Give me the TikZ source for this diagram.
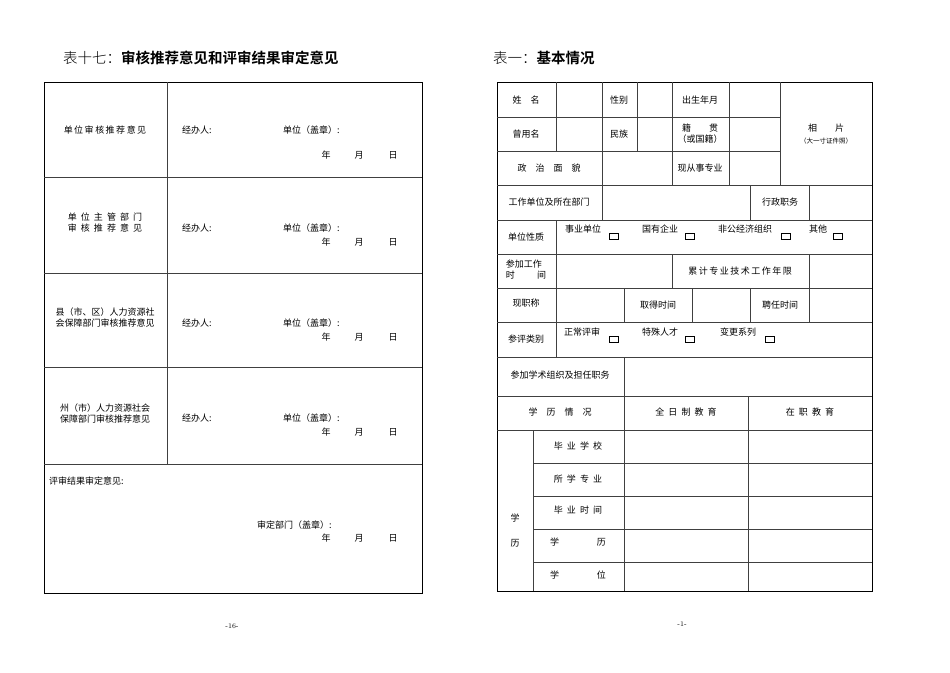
\documentclass[tikz,border=0pt]{standalone}
\usepackage{fontspec}
\newfontfamily\cjk{Noto Sans CJK SC}[BoldFont={Noto Sans CJK SC Bold}]
\newfontfamily\cjkl{Noto Sans CJK SC Light}
\begin{document}
\begin{tikzpicture}[x=1pt,y=-1pt,
  grid/.style={draw=black!75,line width=0.9pt},
  outer/.style={draw=black,line width=1pt},
  t/.style={font=\cjk\fontsize{9}{11}\selectfont,inner sep=0pt,align=center},
  cb/.style={draw=black,line width=0.6pt,minimum width=9pt,minimum height=6pt,inner sep=0pt},
  ttl/.style={font=\cjk\fontsize{14.5}{16}\selectfont,inner sep=0pt,anchor=west}]
\useasboundingbox (0,0) rectangle (950,672);
% ---------- left table ----------
\node[ttl] (lt) at (63,58) {{\cjkl 表十七：}\textbf{审核推荐意见和评审结果审定意见}};
\draw[outer] (44,82) rectangle (422,593);
\foreach \y in {177,273,367,464} \draw[grid] (44,\y) -- (422,\y);
\draw[grid] (167,82) -- (167,464);
\node[t] (l1) at (105,130) {单\,位\,审\,核\,推\,荐\,意\,见};
\node[t] (l2) at (105,223) {单\ \ 位\ \ 主\ \ 管\ \ 部\ \ 门\\审\ \ 核\ \ 推\ \ 荐\ \ 意\ \ 见};
\node[t] (l3) at (105,318) {县（市、区）人力资源社\\会保障部门审核推荐意见};
\node[t] (l4) at (105,414) {州（市）人力资源社会\\保障部门审核推荐意见};
\foreach \i/\y/\d in {1/130/25,2/228/14,3/323/14,4/418/14}{
  \node[t,anchor=west] (jb\i) at (182,\y) {经办人:};
  \node[t,anchor=west] (dw\i) at (283,\y) {单位（盖章）:};
  \node[t] (n\i) at (326,\y+\d) {年};
  \node[t] (m\i) at (359,\y+\d) {月};
  \node[t] (r\i) at (393,\y+\d) {日};
}
\node[t,anchor=west] (l5) at (49,481) {评审结果审定意见:};
\node[t,anchor=west] (sd) at (257,525) {审定部门（盖章）:};
\node[t] (n5) at (326,538) {年};
\node[t] (m5) at (359,538) {月};
\node[t] (r5) at (393,538) {日};
\node[font=\fontsize{7}{8}\selectfont] (p16) at (232,626) {-16-};
% ---------- right table ----------
\node[ttl] (rt) at (493,58) {{\cjkl 表一：}\textbf{基本情况}};
\draw[outer] (497,82) rectangle (872,591);
\foreach \y in {117,151} \draw[grid] (497,\y) -- (780,\y);
\foreach \y in {185,220,254,288,322,357,396,430} \draw[grid] (497,\y) -- (872,\y);
\foreach \y in {463,496,529,562} \draw[grid] (533,\y) -- (872,\y);
\draw[grid] (556,82) -- (556,151);
\draw[grid] (602,82) -- (602,185);
\draw[grid] (637,82) -- (637,151);
\draw[grid] (672,82) -- (672,185);
\draw[grid] (729,82) -- (729,185);
\draw[grid] (780,82) -- (780,185);
\draw[grid] (602,185) -- (602,220);
\draw[grid] (750,185) -- (750,220);
\draw[grid] (809,185) -- (809,220);
\draw[grid] (556,220) -- (556,357);
\draw[grid] (672,254) -- (672,288);
\draw[grid] (809,254) -- (809,322);
\draw[grid] (624,288) -- (624,322);
\draw[grid] (692,288) -- (692,322);
\draw[grid] (750,288) -- (750,322);
\draw[grid] (624,357) -- (624,591);
\draw[grid] (748,396) -- (748,591);
\draw[grid] (533,430) -- (533,591);
% texts
\node[t] (a1) at (526,100) {姓\quad 名};
\node[t] (a2) at (619,100) {性别};
\node[t] (a3) at (700,100) {出生年月};
\node[t] (b1) at (526,134) {曾用名};
\node[t] (b2) at (619,134) {民族};
\node[t] (b3) at (700,134) {籍\qquad 贯\\（或国籍）};
\node[t] (ph) at (826,134) {相\qquad 片\\[1pt]{\fontsize{6.5}{8}\selectfont （大一寸证件照）}};
\node[t] (c1) at (549,168) {政\quad 治\quad 面\quad 貌};
\node[t] (c2) at (700,168) {现从事专业};
\node[t] (d1) at (549,202) {工作单位及所在部门};
\node[t] (d2) at (780,202) {行政职务};
\node[t] (e1) at (526,237) {单位性质};
\node[t] (e2) at (583,229) {事业单位};
\node[cb] (eb2) at (614,236) {};
\node[t] (e3) at (660,229) {国有企业};
\node[cb] (eb3) at (690,236) {};
\node[t] (e4) at (745,229) {非公经济组织};
\node[cb] (eb4) at (786,236) {};
\node[t] (e5) at (818,229) {其他};
\node[cb] (eb5) at (838,236) {};
\node[t,align=left] (f1) at (526,270) {参加工作\\时\qquad\ \ 间};
\node[t] (f2) at (740,271) {累\,计\,专\,业\,技\,术\,工\,作\,年\,限};
\node[t] (g1) at (526,303) {现职称};
\node[t] (g2) at (658,305) {取得时间};
\node[t] (g3) at (780,305) {聘任时间};
\node[t] (h1) at (526,339) {参评类别};
\node[t] (h2) at (582,332) {正常评审};
\node[cb] (hb2) at (614,339) {};
\node[t] (h3) at (660,332) {特殊人才};
\node[cb] (hb3) at (690,339) {};
\node[t] (h4) at (738,332) {变更系列};
\node[cb] (hb4) at (770,339) {};
\node[t] (i1) at (560,375) {参加学术组织及担任职务};
\node[t] (j1) at (560,412) {学\quad 历\quad 情\quad 况};
\node[t] (j2) at (686,412) {全\ \ 日\ \ 制\ \ 教\ \ 育};
\node[t] (j3) at (810,412) {在\ \ 职\ \ 教\ \ 育};
\node[t] (k0) at (515,518) {学};
\node[t] (k00) at (515,543) {历};
\node[t] (k1) at (578,446) {毕\ \ 业\ \ 学\ \ 校};
\node[t] (k2) at (578,479) {所\ \ 学\ \ 专\ \ 业};
\node[t] (k3) at (578,510) {毕\ \ 业\ \ 时\ \ 间};
\node[t] (k4) at (578,542) {学\hspace{4.2em}历};
\node[t] (k5) at (578,575) {学\hspace{4.2em}位};
\node[font=\fontsize{7}{8}\selectfont] (p1) at (682,624) {-1-};
\end{tikzpicture}
\end{document}
